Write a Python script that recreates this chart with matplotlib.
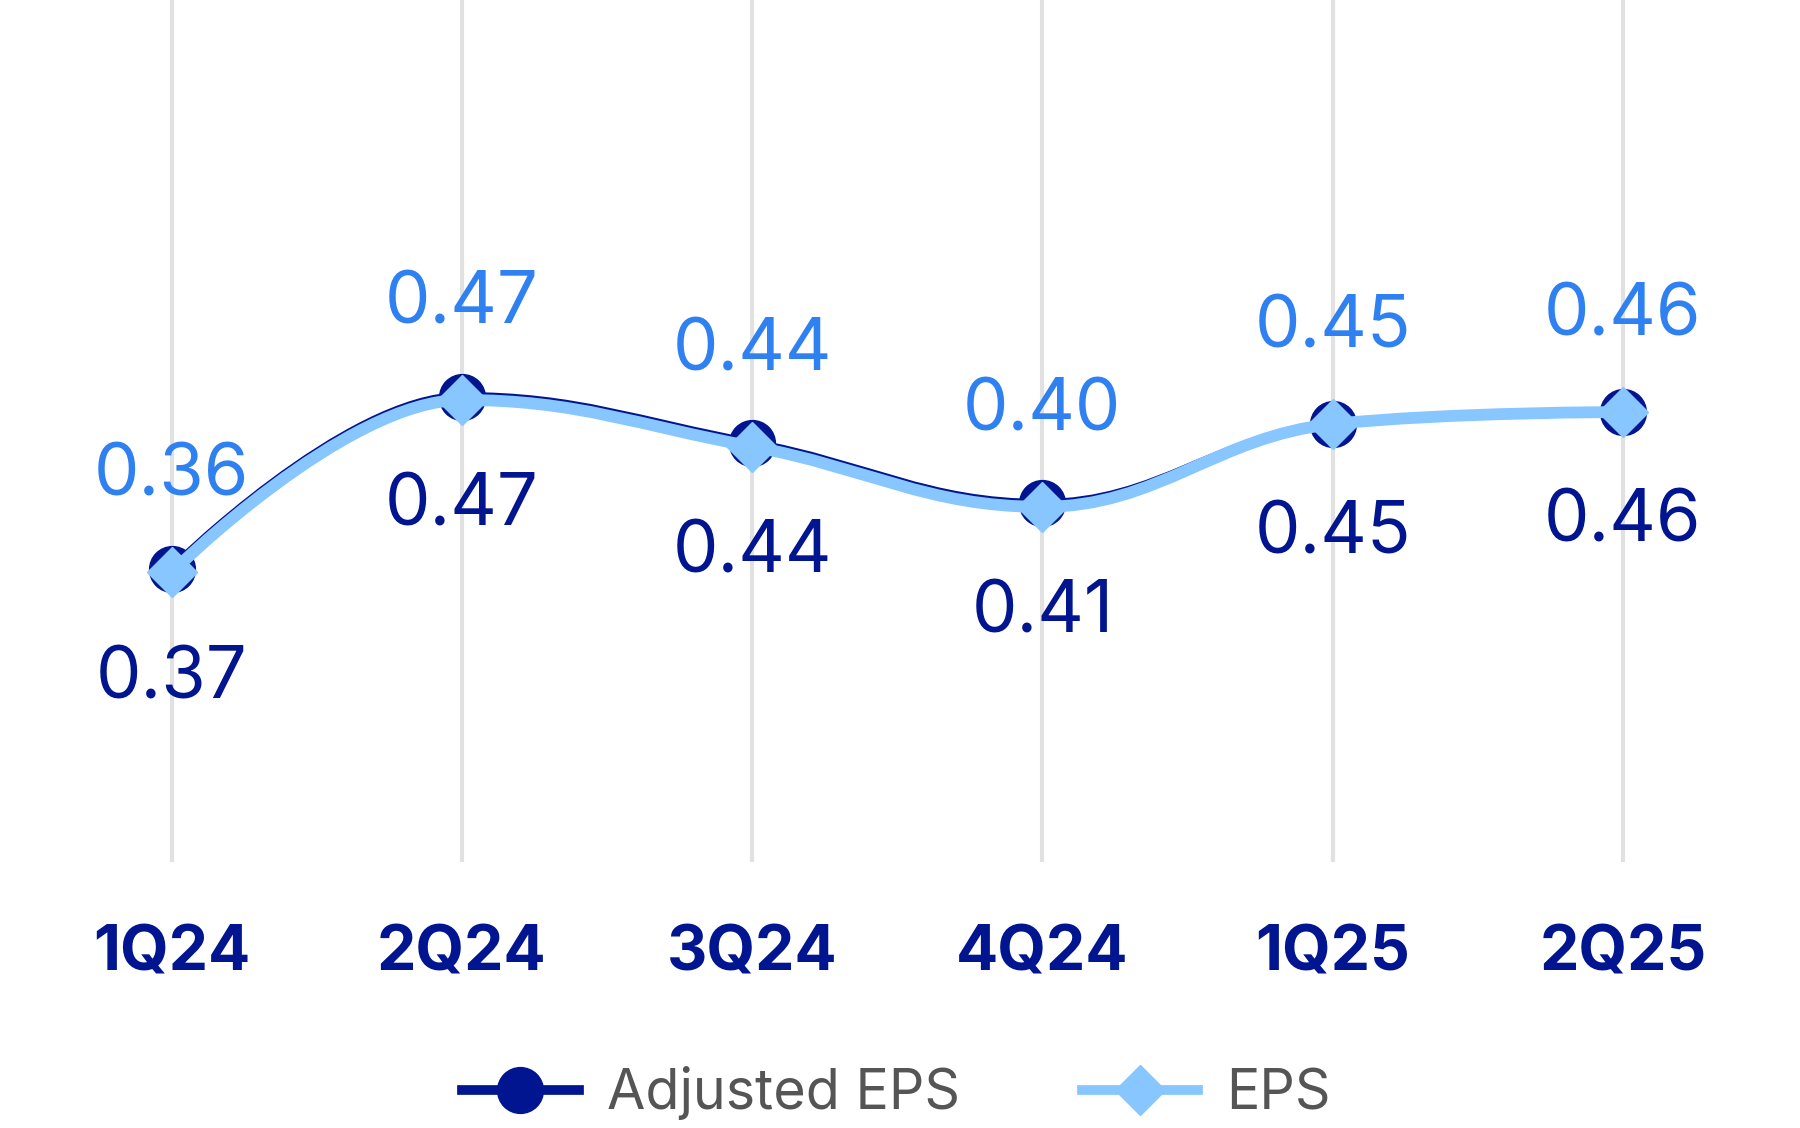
import matplotlib
matplotlib.use("Agg")
import matplotlib.pyplot as plt
from matplotlib.path import Path
from matplotlib.patches import PathPatch
from matplotlib.lines import Line2D

# ── data ─────────────────────────────────────────────────────────────────────
quarters   = ["1Q24", "2Q24", "3Q24", "4Q24", "1Q25", "2Q25"]
adj_eps    = [0.370, 0.470, 0.443, 0.408, 0.454, 0.461]
eps        = [0.368, 0.468, 0.441, 0.406, 0.454, 0.461]
adj_labels = ["0.37", "0.47", "0.44", "0.41", "0.45", "0.46"]
eps_labels = ["0.36", "0.47", "0.44", "0.40", "0.45", "0.46"]

NAVY  = "#00158F"
LIGHT = "#87C6FF"
BLUE  = "#2F80F0"
GREY  = "#555555"
GRID  = "#E1E1E1"

plt.rcParams["font.family"] = ["Inter", "DejaVu Sans"]


def spline_path(xs, ys, smoothing=1.5):
    """Bezier path through the points, same idea as a highcharts spline."""
    denom = smoothing + 1
    verts = [(xs[0], ys[0])]
    codes = [Path.MOVETO]
    right = {}
    n = len(xs)
    for i in range(1, n):
        px, py = xs[i], ys[i]
        lx, ly = xs[i - 1], ys[i - 1]
        lcx, lcy = px, py
        if i < n - 1:
            nx, ny = xs[i + 1], ys[i + 1]
            lcx = (smoothing * px + lx) / denom
            lcy = (smoothing * py + ly) / denom
            rcx = (smoothing * px + nx) / denom
            rcy = (smoothing * py + ny) / denom
            if rcx != lcx:
                corr = (rcy - lcy) * (rcx - px) / (rcx - lcx) + py - rcy
                lcy += corr
                rcy += corr
            if lcy > ly and lcy > py:
                lcy = max(ly, py)
                rcy = 2 * py - lcy
            elif lcy < ly and lcy < py:
                lcy = min(ly, py)
                rcy = 2 * py - lcy
            if rcy > ny and rcy > py:
                rcy = max(ny, py)
                lcy = 2 * py - rcy
            elif rcy < ny and rcy < py:
                rcy = min(ny, py)
                lcy = 2 * py - rcy
            right[i] = (rcx, rcy)
        c1 = right.get(i - 1, (lx, ly))
        verts += [c1, (lcx, lcy), (px, py)]
        codes += [Path.CURVE4] * 3
    return Path(verts, codes)


# ── figure ───────────────────────────────────────────────────────────────────
fig = plt.figure(figsize=(18, 11.28), dpi=100)
ax = fig.add_axes([26.5 / 1800, 1 - 862 / 1128, 1741.5 / 1800, 862 / 1128])

x = list(range(len(quarters)))
ax.set_xlim(-0.5, len(quarters) - 0.5)
ax.set_ylim(0.2, 0.7)

ax.add_patch(PathPatch(spline_path(x, adj_eps), fill=False, edgecolor=NAVY,
                       lw=6.5, capstyle="round", zorder=3))
ax.plot(x, adj_eps, ls="none", marker="o", ms=33, color=NAVY, zorder=4)
ax.add_patch(PathPatch(spline_path(x, eps), fill=False, edgecolor=LIGHT,
                       lw=8.5, capstyle="round", zorder=5))
ax.plot(x, eps, ls="none", marker="D", ms=25, color=LIGHT, zorder=6)

for xi, y, t in zip(x, eps, eps_labels):
    ax.annotate(t, (xi, y), xytext=(0, 55), textcoords="offset points",
                ha="center", va="baseline", fontsize=52, color=BLUE, zorder=7)
for xi, y, t in zip(x, adj_eps, adj_labels):
    ax.annotate(t, (xi, y), xytext=(0, -93), textcoords="offset points",
                ha="center", va="baseline", fontsize=52, color=NAVY, zorder=7)

ax.set_xticks(x)
ax.set_xticklabels(quarters, fontsize=45, fontweight="bold", color=NAVY)
ax.tick_params(axis="x", length=0, pad=45)
ax.set_yticks([])
ax.grid(axis="x", color=GRID, lw=3, zorder=0)
for s in ax.spines.values():
    s.set_visible(False)

handles = [
    Line2D([], [], color=NAVY, lw=7, marker="o", ms=33),
    Line2D([], [], color=LIGHT, lw=7, marker="D", ms=25),
]
fig.legend(handles, ["Adjusted EPS", "EPS"], loc="center",
           bbox_to_anchor=(0.498, 0.031), ncol=2, frameon=False,
           fontsize=40, labelcolor=GREY, handlelength=2.1,
           handletextpad=0.5, columnspacing=2.2)

fig.savefig("out.png", dpi=100)
